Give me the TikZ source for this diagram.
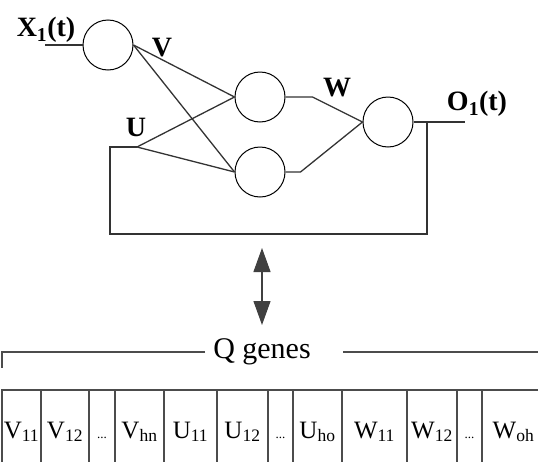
\documentclass[tikz,border=0pt]{standalone}
\usepackage{fontspec}
\setmainfont{LiberationSerif}[Extension=.ttf, UprightFont=*-Regular,
  BoldFont=*-Bold, ItalicFont=*-Italic, BoldItalicFont=*-BoldItalic]
\usetikzlibrary{arrows.meta,positioning,calc}

\begin{document}
\begin{tikzpicture}[x=1pt, y=-1pt,
  neuron/.style={draw, circle, minimum size=50pt, inner sep=0pt,
    line width=1pt},
  wire/.style={draw=black!80, line width=1.3pt},
  lbl/.style={font=\bfseries\fontsize{28}{30}\selectfont, inner sep=0pt},
  gene/.style={draw=black!70, line width=1.3pt},
  celltext/.style={font=\fontsize{25}{28}\selectfont, inner sep=0pt},
  arr/.style={{Triangle[length=24pt,width=17pt]}-{Triangle[length=24pt,width=17pt]},
    draw=black!75, line width=1.2pt}
]
\useasboundingbox (0,0) rectangle (538,461);
\clip (0,0) rectangle (538,461);

% network
\node[neuron] (in) at (108,45) {};
\node[neuron] (hid1) at (260,97) {};
\node[neuron] (hid2) at (260,172) {};
\node[neuron] (out) at (388,122) {};

\coordinate (xin) at (45,45);
\coordinate (ujoin) at (137,147);
\coordinate (oend) at (465,122);
\coordinate (fbup) at (427,122);
\coordinate (fbleft) at (110,234);

\draw[wire] (xin) -- (in);
\draw[wire] (in.east) -- (hid1.west);
\draw[wire] (in.east) -- (hid2.west);
\draw[wire] (ujoin) -- (hid1.west);
\draw[wire] (ujoin) -- (hid2.west);
\draw[wire] (hid1.east) -- ++(27,0) -- (out.west);
\draw[wire] (hid2.east) -- ++(15,0) -- (out.west);
\draw[wire] (out.east) -- (oend);
\draw[wire] (fbup) |- (fbleft) |- (ujoin);

\node[lbl] (xlab) at (46,30) {X\textsubscript{1}(t)};
\node[lbl] (vlab) at (162,48) {V};
\node[lbl] (ulab) at (136,127) {U};
\node[lbl] (wlab) at (337,88) {W};
\node[lbl] (olab) at (477,104) {O\textsubscript{1}(t)};

% coding
\coordinate (atop) at (262,248);
\coordinate (abot) at (262,325);
\draw[arr] (atop) -- (abot);

\node[celltext, font=\fontsize{30}{32}\selectfont] (qg) at (262,352) {Q genes};
\coordinate (qleft) at (205,352);
\coordinate (qright) at (343,352);
\draw[gene] (qleft) -- (2,352) -- (2,368);
\draw[gene] (qright) -- (545,352);

\foreach \xa/\xb/\txt [count=\i] in {
  2/41/V\textsubscript{11}, 41/89/V\textsubscript{12},
  89/115/{\fontsize{13}{15}\selectfont...}, 115/164/V\textsubscript{hn},
  164/217/U\textsubscript{11}, 217/268/U\textsubscript{12},
  268/293/{\fontsize{13}{15}\selectfont...}, 293/342/U\textsubscript{ho},
  342/407/W\textsubscript{11}, 407/457/W\textsubscript{12},
  457/482/{\fontsize{13}{15}\selectfont...}, 482/545/W\textsubscript{oh}} {
  \draw[gene] (\xa,390) rectangle (\xb,475);
  \node[celltext, anchor=base] (cell\i) at ({(\xa+\xb)/2},438) {\txt};
}
\end{tikzpicture}
\end{document}
